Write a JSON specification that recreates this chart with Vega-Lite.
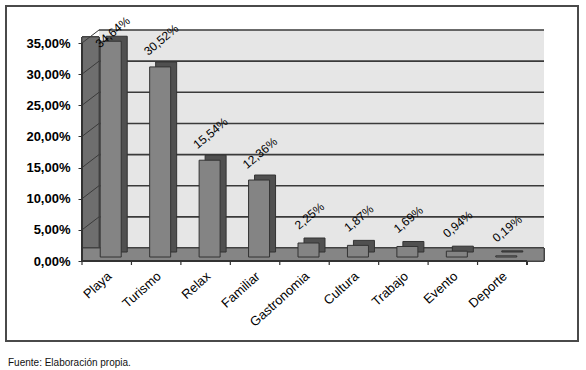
{
  "$schema": "https://vega.github.io/schema/vega-lite/v6.json",
  "width": 572,
  "height": 335,
  "autosize": {"type": "none"},
  "padding": {"left": 6, "top": 6, "right": 8, "bottom": 29},
  "background": "white",
  "config": {
    "view": {"stroke": "#4a4a4a", "strokeWidth": 2},
    "font": "Liberation Sans"
  },
  "title": {
    "text": "Fuente: Elaboración propia.",
    "orient": "bottom",
    "anchor": "start",
    "fontSize": 10,
    "fontWeight": "normal",
    "font": "Liberation Sans",
    "color": "#111",
    "offset": 17,
    "dx": 2
  },
  "datasets": {
    "bars": [
      {"cat": "Playa", "value": 34.64, "label": "34,64%"},
      {"cat": "Turismo", "value": 30.52, "label": "30,52%"},
      {"cat": "Relax", "value": 15.54, "label": "15,54%"},
      {"cat": "Familiar", "value": 12.36, "label": "12,36%"},
      {"cat": "Gastronomia", "value": 2.25, "label": "2,25%"},
      {"cat": "Cultura", "value": 1.87, "label": "1,87%"},
      {"cat": "Trabajo", "value": 1.69, "label": "1,69%"},
      {"cat": "Evento", "value": 0.94, "label": "0,94%"},
      {"cat": "Deporte", "value": 0.19, "label": "0,19%"}
    ],
    "gridlines": [
      {"g": 0}, {"g": 5}, {"g": 10}, {"g": 15}, {"g": 20}, {"g": 25}, {"g": 30}, {"g": 35}
    ]
  },
  "data": {"name": "bars"},
  "encoding": {
    "x": {
      "field": "cat",
      "type": "nominal",
      "sort": null,
      "scale": {
        "domain": ["Playa", "Turismo", "Relax", "Familiar", "Gastronomia", "Cultura", "Trabajo", "Evento", "Deporte"],
        "range": [76, 521],
        "paddingInner": 0,
        "paddingOuter": 0
      },
      "axis": {
        "title": null,
        "orient": "bottom",
        "offset": -80,
        "domain": false,
        "ticks": false,
        "labelAngle": -42,
        "labelAlign": "right",
        "labelBaseline": "middle",
        "labelPadding": 13,
        "labelOffset": 3,
        "labelFontSize": 13,
        "labelColor": "#000",
        "labelFont": "Liberation Sans"
      }
    }
  },
  "layer": [
    {
      "mark": {"type": "rect", "fill": "#e6e6e6", "xOffset": 17, "x2Offset": 17, "yOffset": -13, "y2Offset": -13},
      "encoding": {
        "x": {"datum": "Playa", "bandPosition": 0},
        "x2": {"datum": "Deporte", "bandPosition": 1},
        "y": {
          "datum": 0,
          "type": "quantitative",
          "scale": {"domain": [-12.84, 40.94], "nice": false, "zero": false},
          "axis": {
            "title": null,
            "orient": "left",
            "offset": -76,
            "domain": false,
            "grid": false,
            "values": [0, 5, 10, 15, 20, 25, 30, 35],
            "labelExpr": "replace(format(datum.value, '.2f'), '.', ',') + '%'",
            "tickSize": 4,
            "tickColor": "#333",
            "labelPadding": 8,
            "labelFontSize": 13,
            "labelFontWeight": "bold",
            "labelColor": "#000",
            "labelFont": "Liberation Sans"
          }
        },
        "y2": {"datum": 35}
      }
    },
    {
      "data": {"name": "gridlines"},
      "mark": {"type": "rule", "color": "#3a3a3a", "strokeWidth": 1.6, "xOffset": 17, "x2Offset": 17, "yOffset": -13, "y2Offset": -13},
      "encoding": {
        "x": {"datum": "Playa", "bandPosition": 0},
        "x2": {"datum": "Deporte", "bandPosition": 1},
        "y": {"field": "g", "type": "quantitative"}
      }
    },
    {
      "mark": {"type": "rect", "fill": "#6e6e6e", "stroke": "#444", "strokeWidth": 1, "x2Offset": 17, "yOffset": -6, "y2Offset": -6},
      "encoding": {
        "x": {"datum": "Playa", "bandPosition": 0},
        "x2": {"datum": "Playa", "bandPosition": 0},
        "y": {"datum": 0, "type": "quantitative"},
        "y2": {"datum": 35}
      }
    },
    {
      "data": {"name": "gridlines"},
      "mark": {"type": "rule", "color": "#3a3a3a", "strokeWidth": 1, "x2Offset": 17, "y2Offset": -13},
      "encoding": {
        "x": {"datum": "Playa", "bandPosition": 0},
        "x2": {"datum": "Playa", "bandPosition": 0},
        "y": {"field": "g", "type": "quantitative"},
        "y2": {"field": "g"}
      }
    },
    {
      "mark": {"type": "rect", "fill": "#858585", "stroke": "#444", "strokeWidth": 1, "x2Offset": 17, "y2Offset": -13},
      "encoding": {
        "x": {"datum": "Playa", "bandPosition": 0},
        "x2": {"datum": "Deporte", "bandPosition": 1},
        "y": {"datum": 0, "type": "quantitative"},
        "y2": {"datum": 0}
      }
    },
    {
      "mark": {"type": "rule", "color": "#333", "strokeWidth": 1.2},
      "encoding": {
        "x": {"datum": "Playa", "bandPosition": 0},
        "x2": {"datum": "Deporte", "bandPosition": 1},
        "y": {"datum": 0, "type": "quantitative"}
      }
    },
    {
      "mark": {"type": "rule", "color": "#333", "strokeWidth": 1.2},
      "encoding": {
        "x": {"datum": "Playa", "bandPosition": 0},
        "y": {"datum": 0, "type": "quantitative"},
        "y2": {"datum": 35}
      }
    },
    {
      "mark": {"type": "rule", "color": "#333", "strokeWidth": 1.2, "y2Offset": 4},
      "encoding": {
        "x": {"field": "cat", "type": "nominal", "sort": null, "bandPosition": 0},
        "y": {"datum": 0, "type": "quantitative"},
        "y2": {"datum": 0}
      }
    },
    {
      "mark": {"type": "rule", "color": "#333", "strokeWidth": 1.2, "y2Offset": 4},
      "encoding": {
        "x": {"datum": "Deporte", "bandPosition": 1},
        "y": {"datum": 0, "type": "quantitative"},
        "y2": {"datum": 0}
      }
    },
    {
      "mark": {"type": "bar", "width": 21, "fill": "#505050", "stroke": "#333", "strokeWidth": 1, "xOffset": 10, "yOffset": -9, "y2Offset": -9},
      "encoding": {
        "y": {"field": "value", "type": "quantitative"},
        "y2": {"datum": 0}
      }
    },
    {
      "mark": {"type": "bar", "width": 21, "fill": "#848484", "stroke": "#333", "strokeWidth": 1, "xOffset": 4, "yOffset": -4, "y2Offset": -4},
      "encoding": {
        "y": {"field": "value", "type": "quantitative"},
        "y2": {"datum": 0}
      }
    },
    {
      "transform": [{"filter": "datum.value < 33"}],
      "mark": {"type": "text", "angle": -40, "align": "center", "baseline": "middle", "fontSize": 12, "color": "#000", "xOffset": 5, "yOffset": -31, "font": "Liberation Sans"},
      "encoding": {
        "y": {"field": "value", "type": "quantitative"},
        "text": {"field": "label"}
      }
    },
    {
      "transform": [{"filter": "datum.value >= 33"}],
      "mark": {"type": "text", "angle": -40, "align": "center", "baseline": "middle", "fontSize": 12, "color": "#000", "xOffset": 6, "yOffset": -13, "font": "Liberation Sans"},
      "encoding": {
        "y": {"field": "value", "type": "quantitative"},
        "text": {"field": "label"}
      }
    }
  ]
}
